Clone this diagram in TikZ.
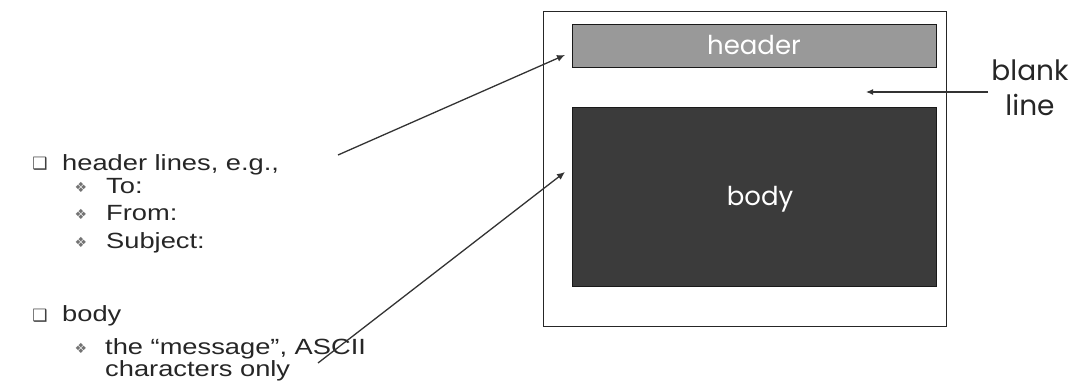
\documentclass[tikz,border=0pt]{standalone}
\usepackage{fontspec}
\usetikzlibrary{arrows.meta}
\setmainfont[FakeStretch=1.24]{Liberation Sans}
\newfontfamily\djv{DejaVu Sans}
\newfontfamily\cmc{Poppins}
\begin{document}
\begin{tikzpicture}[x=1pt,y=-1pt,
  txt/.style={anchor=base west,inner sep=0pt,font=\fontsize{22}{24}\selectfont,text=black!85},
  sq/.style={anchor=base,inner sep=0pt,font=\djv\fontsize{17}{19}\selectfont,text=black!75},
  dm/.style={anchor=base,inner sep=0pt,font=\djv\fontsize{14}{16}\selectfont,text=black!55},
  arr/.style={draw=black!80,line width=1.3pt,-{Latex[length=8pt,width=7pt]}}]
\useasboundingbox (0,0) rectangle (1075,385);
% right diagram
\node[draw=black!85,line width=1pt,minimum width=403pt,minimum height=314pt,inner sep=0pt] (msg) at (744.5,169) {};
\node[draw=black!90,line width=1pt,fill=black!40,minimum width=364pt,minimum height=43pt,inner sep=0pt] (hdr) at (754,46.5) {};
\node[anchor=base,text=white,font=\cmc\fontsize{26}{28}\selectfont,inner sep=0pt] (hdrtxt) at (754,55) {header};
\node[draw=black!90,line width=1pt,fill=black!77,minimum width=364pt,minimum height=178pt,inner sep=0pt] (bdy) at (754,197) {};
\node[anchor=base,text=white,font=\cmc\fontsize{26}{28}\selectfont,inner sep=0pt] (bdytxt) at (760,205) {body};
\node[anchor=base,font=\cmc\fontsize{28}{30}\selectfont,inner sep=0pt,text=black!85] (blank) at (1030,81) {blank};
\node[anchor=base,font=\cmc\fontsize{28}{30}\selectfont,inner sep=0pt,text=black!85] (line) at (1030,116) {line};
\coordinate (bl) at (866,92);
\coordinate (blS) at (988,92);
\draw[draw=black!80,line width=1.2pt,-{Latex[length=7pt,width=6pt]}] (blS) -- (bl);
% left text
\node[sq] (b1) at (40,169) {❑};
\node[txt] (t1) at (62,170) {header lines, e.g.,};
\node[dm] (d1) at (81,192) {❖};
\node[txt] (t2) at (106,193) {To:};
\node[dm] (d2) at (81,219) {❖};
\node[txt] (t3) at (106,220) {From:};
\node[dm] (d3) at (81,247) {❖};
\node[txt] (t4) at (106,248) {Subject:};
\node[sq] (b2) at (40,321) {❑};
\node[txt] (t5) at (62,321) {body};
\node[dm] (d4) at (81,353) {❖};
\node[txt] (t6) at (105,354) {the “message”, ASCII};
\node[txt] (t7) at (105,376) {characters only};
% arrows
\coordinate (a1s) at (338,155);
\coordinate (a1e) at (565,55);
\coordinate (a2s) at (318,363);
\coordinate (a2e) at (565,172);
\draw[arr] (a1s) -- (a1e);
\draw[arr] (a2s) -- (a2e);
\end{tikzpicture}
\end{document}
